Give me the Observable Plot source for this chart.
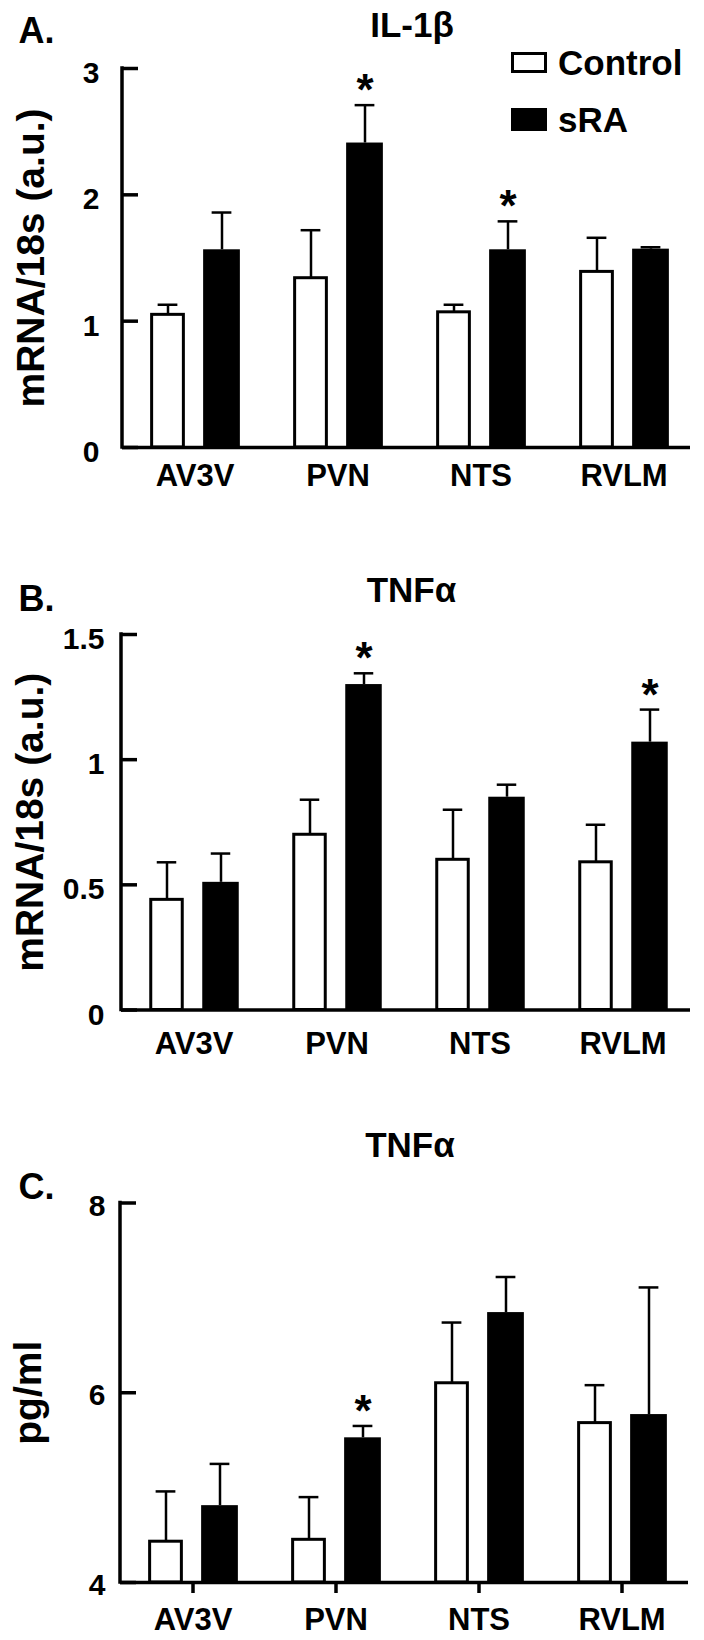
<!DOCTYPE html>
<html><head><meta charset="utf-8">
<script src="https://cdn.jsdelivr.net/npm/d3@7"></script>
<script src="https://cdn.jsdelivr.net/npm/@observablehq/plot@0.6"></script>
<style>
body{margin:0;background:#fff;}
#fig{position:relative;width:704px;height:1640px;font-family:"Liberation Sans",Arial,Helvetica,sans-serif;font-weight:bold;color:#000;}
#fig svg{display:block;}
.lg{position:absolute;display:flex;align-items:center;font-size:35px;line-height:1;}
.sw{box-sizing:border-box;width:36px;margin-right:11px;border:3.5px solid #000;}
</style></head><body><div id="fig"></div>
<script>
const regions = ["AV3V", "PVN", "NTS", "RVLM"];
const series = ["Control", "sRA"];

// Panel A: IL-1β mRNA/18s
const il1bControl = [1.05, 1.34, 1.07, 1.39];
const il1bControlUpper = [1.13, 1.72, 1.13, 1.66];
const il1bSRA = [1.565, 2.41, 1.565, 1.57];
const il1bSRAUpper = [1.86, 2.71, 1.79, 1.585];
const il1bStar = [false, true, true, false];
const il1bTicks = [0, 1, 2, 3];

// Panel B: TNFα mRNA/18s
const tnfMrnaControl = [0.44, 0.70, 0.60, 0.59];
const tnfMrnaControlUpper = [0.59, 0.84, 0.80, 0.74];
const tnfMrnaSRA = [0.51, 1.30, 0.85, 1.07];
const tnfMrnaSRAUpper = [0.625, 1.345, 0.90, 1.20];
const tnfMrnaStar = [false, true, false, true];
const tnfMrnaTicks = [0, 0.5, 1, 1.5];

// Panel C: TNFα pg/ml
const tnfProtControl = [4.43, 4.45, 6.10, 5.68];
const tnfProtControlUpper = [4.96, 4.90, 6.74, 6.08];
const tnfProtSRA = [4.81, 5.525, 6.845, 5.77];
const tnfProtSRAUpper = [5.25, 5.65, 7.22, 7.11];
const tnfProtStar = [false, true, false, false];
const tnfProtTicks = [4, 6, 8];

const FONT = '"Liberation Sans", Arial, Helvetica, sans-serif';
const W = 704;

function rowsFor(ctrl, ctrlUp, sra, sraUp, star) {
  const rows = [];
  regions.forEach((r, i) => {
    rows.push({region: r, group: series[0], mean: ctrl[i], upper: ctrlUp[i], star: false});
    rows.push({region: r, group: series[1], mean: sra[i], upper: sraUp[i], star: star[i]});
  });
  return rows;
}

function makePanel(c) {
  const rows = rowsFor(c.ctrl, c.ctrlUp, c.sra, c.sraUp, c.star);
  const ctrl = rows.filter(d => d.group === series[0]);
  const sra = rows.filter(d => d.group === series[1]);
  const frameW = W - c.ml - c.mr;
  const half = frameW / regions.length / 2;
  const yMin = c.ticks[0], yMax = c.ticks[c.ticks.length - 1];
  const yAxisLine = (index, scales, values, dims) => {
    const l = document.createElementNS("http://www.w3.org/2000/svg", "line");
    const x = dims.marginLeft;
    l.setAttribute("x1", x); l.setAttribute("x2", x);
    l.setAttribute("y1", scales.y(yMax) - 1.75); l.setAttribute("y2", scales.y(yMin) + 1.75);
    l.setAttribute("stroke", "black"); l.setAttribute("stroke-width", 3.5);
    return l;
  };
  const marks = [
    Plot.barY(ctrl, {x: "region", y1: () => yMin, y2: "mean", fill: "white", stroke: "black", strokeWidth: 3,
      insetLeft: half - 43, insetRight: half + 11}),
    Plot.barY(sra, {x: "region", y1: () => yMin, y2: "mean", fill: "black",
      insetLeft: half + 8.5, insetRight: half - 45.5}),
    Plot.ruleX(ctrl, {x: "region", y1: "mean", y2: "upper", dx: -27, strokeWidth: 2.5}),
    Plot.ruleX(sra, {x: "region", y1: "mean", y2: "upper", dx: 27, strokeWidth: 2.5}),
    Plot.tickY(ctrl, {x: "region", y: "upper", dx: -27, insetLeft: half - 10, insetRight: half - 10, strokeWidth: 2.5}),
    Plot.tickY(sra, {x: "region", y: "upper", dx: 27, insetLeft: half - 10, insetRight: half - 10, strokeWidth: 2.5}),
    Plot.text(sra.filter(d => d.star), {x: "region", y: "upper", dx: 27, dy: -14, text: () => "*", fontSize: 44, fontWeight: "bold", fill: "black", lineAnchor: "middle"}),
    Plot.ruleY([yMin], {strokeWidth: 3.5, insetRight: 5}),
    yAxisLine,
    Plot.tickY(c.ticks, {y: d => d, insetRight: frameW - 16, strokeWidth: 3.5}),
    Plot.axisY(c.ticks, {tickSize: 0, tickPadding: c.ytp, fontSize: 30, fontWeight: "bold", dy: c.ydy, label: null, tickFormat: d => String(d)}),
    Plot.axisX({tickSize: 0, tickPadding: c.xtp, fontSize: 31, fontWeight: "bold", label: null}),
    Plot.text([c.ylabel], {frameAnchor: "left", text: d => d, rotate: -90, textAnchor: "middle", lineAnchor: "middle", dx: c.ylx - c.ml, fontSize: 39, fontWeight: "bold"}),
    Plot.text([c.title], {frameAnchor: "top", text: d => d, textAnchor: "middle", lineAnchor: "middle", dy: c.titleY - c.mt, dx: 3, fontSize: 35, fontWeight: "bold"}),
    Plot.text([c.letter], {frameAnchor: "top-left", text: d => d, textAnchor: "start", lineAnchor: "middle", dx: 18 - c.ml, dy: c.letterY - c.mt, fontSize: 36, fontWeight: "bold"})
  ];
  if (c.xTickSize) {
    marks.push(Plot.axisX({tickSize: c.xTickSize, strokeWidth: 3.5, text: null, label: null}));
  }
  return Plot.plot({
    width: W, height: c.h,
    marginTop: c.mt, marginBottom: c.mb, marginLeft: c.ml, marginRight: c.mr,
    x: {type: "band", domain: regions, padding: 0, axis: null, label: null},
    y: {domain: [yMin, yMax], axis: null, label: null},
    style: {fontFamily: FONT, fontWeight: "bold", background: "white", color: "black", overflow: "visible"},
    marks
  });
}

const fig = document.getElementById("fig");
fig.append(makePanel({
  h: 500, mt: 68, mb: 53, ml: 122, mr: 9,
  ctrl: il1bControl, ctrlUp: il1bControlUpper, sra: il1bSRA, sraUp: il1bSRAUpper, star: il1bStar,
  ticks: il1bTicks, ytp: 23, ydy: 5, xtp: 16,
  ylabel: "mRNA/18s (a.u.)", ylx: 31, title: "IL-1β", titleY: 25, letter: "A.", letterY: 31
}));
fig.append(makePanel({
  h: 560, mt: 134, mb: 50.5, ml: 121, mr: 9,
  ctrl: tnfMrnaControl, ctrlUp: tnfMrnaControlUpper, sra: tnfMrnaSRA, sraUp: tnfMrnaSRAUpper, star: tnfMrnaStar,
  ticks: tnfMrnaTicks, ytp: 17, ydy: 5, xtp: 22,
  ylabel: "mRNA/18s (a.u.)", ylx: 30, title: "TNFα", titleY: 90, letter: "B.", letterY: 99
}));
fig.append(makePanel({
  h: 580, mt: 142.5, mb: 58, ml: 120, mr: 11,
  ctrl: tnfProtControl, ctrlUp: tnfProtControlUpper, sra: tnfProtSRA, sraUp: tnfProtSRAUpper, star: tnfProtStar,
  ticks: tnfProtTicks, ytp: 15, ydy: 3, xtp: 25, xTickSize: 11,
  ylabel: "pg/ml", ylx: 28, title: "TNFα", titleY: 85, letter: "C.", letterY: 127
}));

// Legend (panel A)
const legendItems = [
  {label: series[0], fill: "#fff", top: 52, h: 21},
  {label: series[1], fill: "#000", top: 108, h: 23}
];
for (const it of legendItems) {
  const row = document.createElement("div");
  row.className = "lg";
  row.style.left = "511px";
  row.style.top = (it.top - 6) + "px";
  row.style.height = (it.h + 12) + "px";
  const sw = document.createElement("div");
  sw.className = "sw";
  sw.style.height = it.h + "px";
  sw.style.background = it.fill;
  const tx = document.createElement("span");
  tx.textContent = it.label;
  row.append(sw, tx);
  fig.append(row);
}
</script></body></html>
